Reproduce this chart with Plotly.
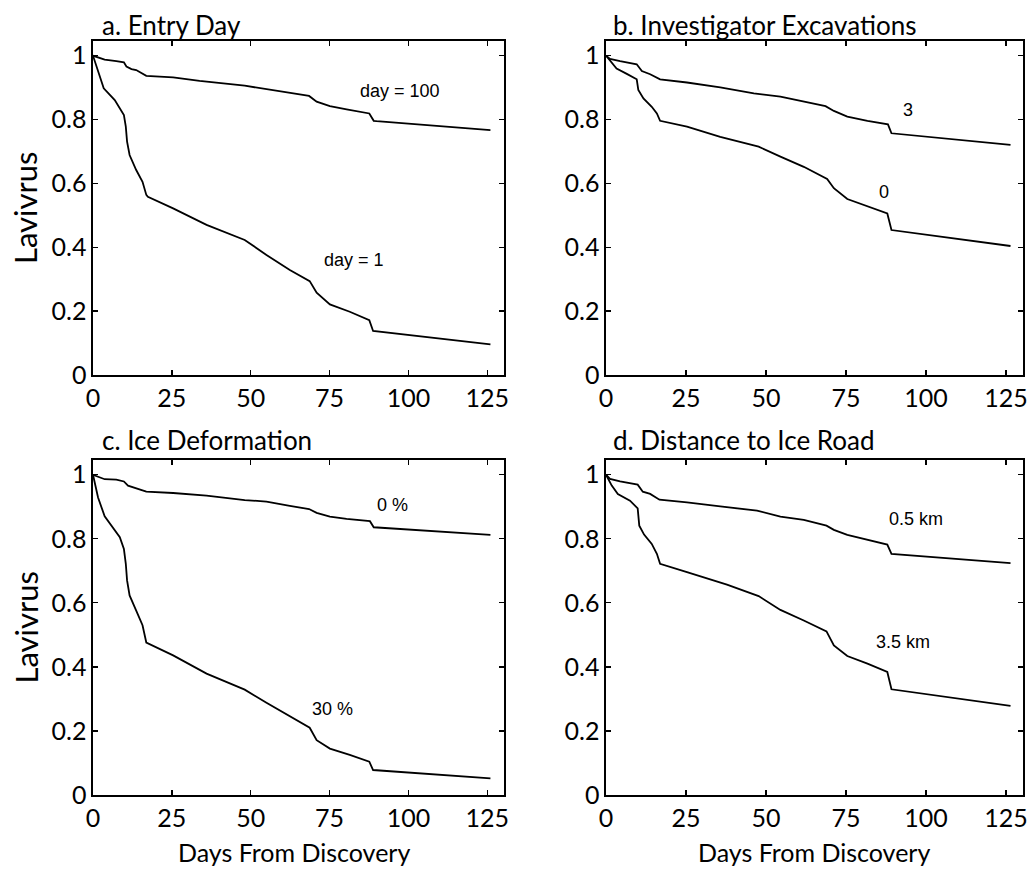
import plotly.graph_objects as go

# ---------------- data ----------------
a_x_hi = [0, 2.1, 3.7, 7.4, 9.8, 10.6, 12.2, 13.7, 16.4, 16.9, 25.4, 33.8, 48.1, 55, 62.4, 68.5, 70.9, 75.1, 80.4, 87.6, 89, 89.9, 126]
a_y_hi = [1.0, 0.992, 0.988, 0.983, 0.979, 0.966, 0.958, 0.955, 0.939, 0.937, 0.932, 0.921, 0.906, 0.895, 0.882, 0.874, 0.856, 0.842, 0.832, 0.819, 0.796, 0.795, 0.767]
a_x_lo = [0, 3.4, 6.9, 8.5, 9.8, 10.4, 10.8, 11.6, 13.7, 15.7, 16.9, 17.4, 25.4, 36, 48.1, 55, 62.4, 68.7, 70.9, 75.1, 81.4, 87.6, 88.8, 126]
a_y_lo = [1.0, 0.898, 0.861, 0.835, 0.814, 0.778, 0.731, 0.689, 0.642, 0.605, 0.564, 0.558, 0.522, 0.470, 0.423, 0.376, 0.329, 0.294, 0.258, 0.221, 0.198, 0.172, 0.138, 0.096]

b_x_hi = [0, 1.25, 4.4, 9.6, 11.2, 13.8, 16.9, 25.3, 35.7, 46.2, 54.5, 61.8, 68.6, 71.2, 75.4, 81.7, 88.1, 89.2, 126.4]
b_y_hi = [1.0, 0.990, 0.983, 0.973, 0.952, 0.942, 0.926, 0.916, 0.901, 0.882, 0.872, 0.856, 0.842, 0.827, 0.809, 0.796, 0.785, 0.757, 0.721]
b_x_lo = [0, 3.3, 6.5, 9.6, 10.1, 11.7, 14.3, 15.9, 16.9, 25.3, 35.7, 47.7, 54.5, 61.8, 69.1, 71.2, 75.4, 81.7, 87.9, 89.2, 126.4]
b_y_lo = [1.0, 0.960, 0.943, 0.926, 0.893, 0.866, 0.840, 0.819, 0.796, 0.778, 0.746, 0.715, 0.684, 0.652, 0.614, 0.585, 0.551, 0.529, 0.506, 0.454, 0.404]

c_x_hi = [0, 2.1, 3.7, 7.4, 9.8, 11.1, 13.7, 16.9, 25.4, 36, 48.1, 55, 62.4, 68.5, 70.9, 75.1, 80.4, 87.8, 89, 126]
c_y_hi = [1.0, 0.992, 0.986, 0.985, 0.979, 0.966, 0.958, 0.947, 0.943, 0.935, 0.921, 0.916, 0.903, 0.893, 0.881, 0.869, 0.862, 0.855, 0.836, 0.812]
c_x_lo = [0, 1.6, 3.7, 6.3, 8.5, 9.8, 10.4, 10.8, 11.6, 13.7, 15.7, 16.9, 25.4, 36, 48.1, 55, 62.4, 68.7, 70.9, 75.1, 81.4, 87.6, 88.8, 126]
c_y_lo = [1.0, 0.929, 0.870, 0.836, 0.805, 0.768, 0.722, 0.670, 0.623, 0.576, 0.530, 0.476, 0.436, 0.379, 0.329, 0.288, 0.246, 0.210, 0.171, 0.145, 0.125, 0.104, 0.078, 0.052]

d_x_hi = [0, 1.25, 4.4, 9.9, 11.5, 13.8, 16.7, 25.3, 35.7, 47.2, 54.5, 61.8, 68.9, 71.2, 75.4, 81.7, 87.9, 89.2, 126.4]
d_y_hi = [1.0, 0.987, 0.979, 0.969, 0.947, 0.940, 0.922, 0.914, 0.901, 0.888, 0.869, 0.859, 0.841, 0.828, 0.812, 0.798, 0.782, 0.753, 0.724]
d_x_lo = [0, 1.8, 3.7, 7.5, 9.9, 10.4, 11.9, 14.3, 15.9, 16.9, 25.3, 37.8, 47.7, 54.5, 61.8, 68.9, 71.2, 75.4, 81.7, 87.9, 89.2, 126.4]
d_y_lo = [1.0, 0.966, 0.940, 0.919, 0.895, 0.841, 0.813, 0.784, 0.753, 0.722, 0.696, 0.657, 0.621, 0.578, 0.545, 0.511, 0.467, 0.434, 0.410, 0.384, 0.330, 0.278]

panel_titles = ["a. Entry Day", "b. Investigator Excavations", "c. Ice Deformation", "d. Distance to Ice Road"]
curve_labels = [["day = 100", "day = 1"], ["3", "0"], ["0 %", "30 %"], ["0.5 km", "3.5 km"]]
label_pos = [[(97.3, 0.890), (82.7, 0.360)], [(94.5, 0.830), (86.9, 0.574)],
             [(95.0, 0.907), (75.9, 0.267)], [(96.8, 0.862), (92.8, 0.478)]]

x_ticks = [0, 25, 50, 75, 100, 125]
x_ticktext = ["0", "25", "50", "75", "100", "125"]
y_ticks = [0, 0.2, 0.4, 0.6, 0.8, 1]
y_ticktext = ["0", "0.2", "0.4", "0.6", "0.8", "1"]

y_axis_title = "Lavivrus"
x_axis_title = "Days From Discovery"

series = [
    [(a_x_hi, a_y_hi), (a_x_lo, a_y_lo)],
    [(b_x_hi, b_y_hi), (b_x_lo, b_y_lo)],
    [(c_x_hi, c_y_hi), (c_x_lo, c_y_lo)],
    [(d_x_hi, d_y_hi), (d_x_lo, d_y_lo)],
]

# ---------------- layout ----------------
W, H = 1030, 869
FONT = "Lato"


def fx(px):
    return px / W


def fy(py):
    return 1 - py / H


# pixel boxes: (left, right, top, bottom)
boxes = [(93, 504, 41, 375), (606, 1023, 41, 375), (93, 504, 460, 795), (606, 1023, 460, 795)]

fig = go.Figure()
layout = dict(
    template="none",
    width=W, height=H,
    margin=dict(l=0, r=0, t=0, b=0, pad=0),
    paper_bgcolor="white", plot_bgcolor="white",
    showlegend=False,
    font=dict(family=FONT, color="black"),
)
annotations = []

for i, (l, r, t, b) in enumerate(boxes):
    n = i + 1
    xa = "xaxis" if n == 1 else f"xaxis{n}"
    ya = "yaxis" if n == 1 else f"yaxis{n}"
    xref = "x" if n == 1 else f"x{n}"
    yref = "y" if n == 1 else f"y{n}"
    common = dict(
        ticks="inside", ticklen=5, tickwidth=1.3, tickcolor="black",
        showline=True, linecolor="black", linewidth=1.6, mirror="ticks",
        showgrid=False, zeroline=False, automargin=False,
        tickfont=dict(family=FONT, size=25, color="black"),
    )
    layout[xa] = dict(domain=[fx(l), fx(r)], anchor=yref, range=[0, 130.3],
                      tickvals=x_ticks, ticktext=x_ticktext, **common)
    layout[ya] = dict(domain=[fy(b), fy(t)], anchor=xref, range=[0, 1.046],
                      tickvals=y_ticks, ticktext=y_ticktext, **common)
    for (xs, ys) in series[i]:
        fig.add_trace(go.Scatter(x=xs, y=ys, mode="lines", xaxis=xref, yaxis=yref,
                                 line=dict(color="black", width=1.8), hoverinfo="skip"))
    for txt, (px, py) in zip(curve_labels[i], label_pos[i]):
        annotations.append(dict(x=px, y=py, xref=xref, yref=yref, text=txt, showarrow=False,
                                font=dict(family="Liberation Sans", size=18, color="black"),
                                xanchor="center", yanchor="middle"))
    # panel title
    ty = 25 if i < 2 else 440
    tx = 100 if i % 2 == 0 else 611
    annotations.append(dict(x=fx(tx), y=fy(ty), xref="paper", yref="paper", text=panel_titles[i],
                            showarrow=False, xanchor="left", yanchor="middle",
                            font=dict(family=FONT, size=26, color="black")))

# axis titles
for yc in [(41 + 375) / 2, (460 + 795) / 2]:
    annotations.append(dict(x=fx(25), y=fy(yc), xref="paper", yref="paper", text=y_axis_title,
                            showarrow=False, textangle=-90, xanchor="center", yanchor="middle",
                            font=dict(family=FONT, size=31, color="black")))
for xc in [294, 814]:
    annotations.append(dict(x=fx(xc), y=fy(868), xref="paper", yref="paper", text=x_axis_title,
                            showarrow=False, xanchor="center", yanchor="bottom", borderpad=0,
                            font=dict(family=FONT, size=25, color="black")))

layout["annotations"] = annotations
fig.update_layout(**layout)
fig.write_html(
    "out.html",
    config={"displayModeBar": False, "staticPlot": True},
    post_script="document.body.style.margin='0';document.body.style.overflow='hidden';"
                "document.documentElement.style.overflow='hidden';",
)
